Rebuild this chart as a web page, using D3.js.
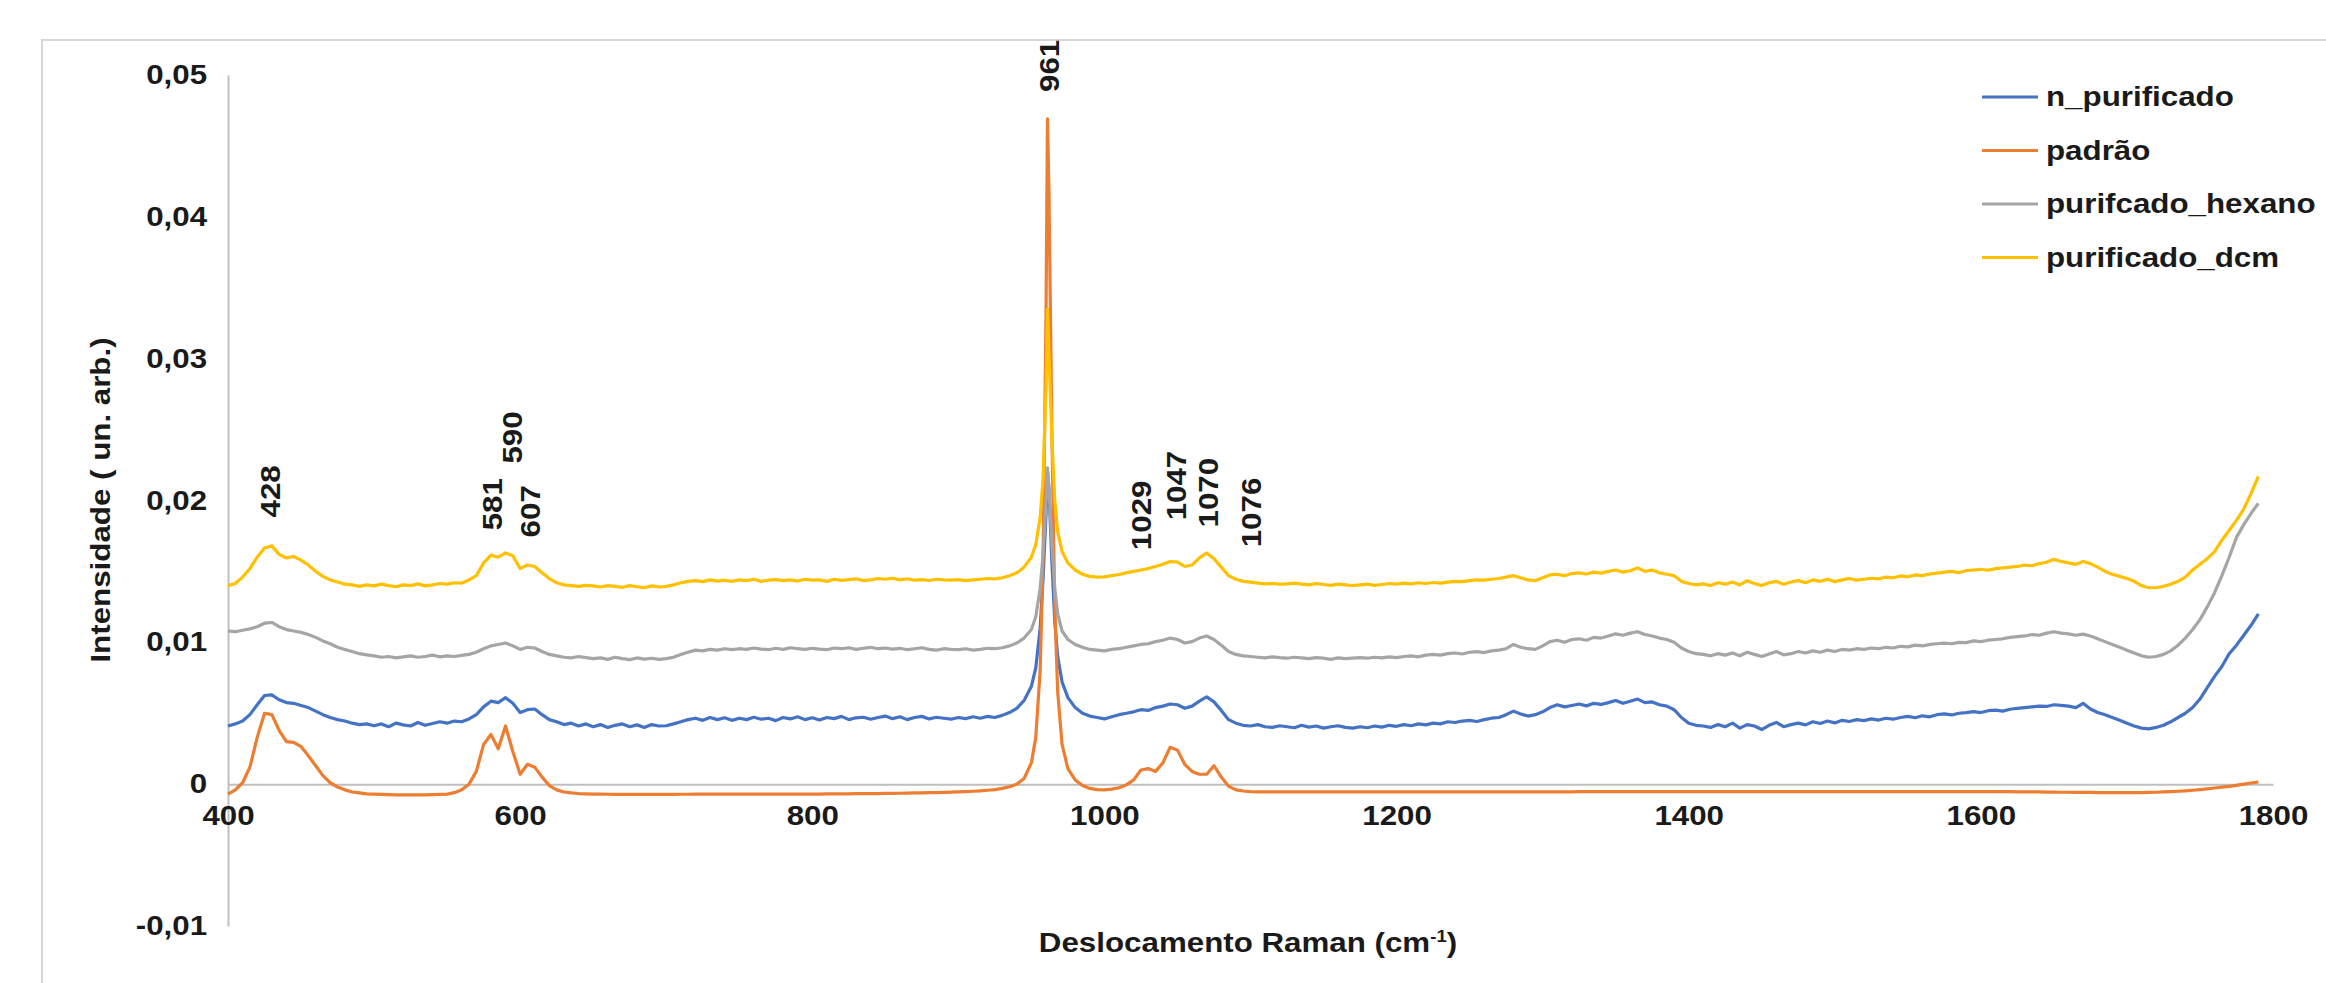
<!DOCTYPE html>
<html>
<head>
<meta charset="utf-8">
<script src="https://cdn.jsdelivr.net/npm/d3@7"></script>
<style>
body { margin: 0; background: #fff; }
svg text {
  font-family: "Liberation Sans", Arial, Helvetica, sans-serif;
  font-weight: bold;
  font-size: 27px;
  fill: #1a1a1a;
}
</style>
</head>
<body>
<svg id="chart"></svg>
<script>
var width = 2326, height = 983;

// Raman shift grid (cm-1): 5 cm-1 steps, finer around the 961 band
var wavenumber = [].concat(
  d3.range(400, 950, 5),
  [950, 953, 956, 958, 960, 961, 962, 964, 966, 968, 971],
  d3.range(975, 1795, 5)
);

// intensities, in units of 1e-5
var SCALE = 1e-5;

var nPurificado = [
  /*400*/ 410,425,445,490,560,625,630,595,575,570,
  /*450*/ 555,540,515,490,470,455,445,430,420,425,
  /*500*/ 412,425,405,430,418,410,435,415,428,440,
  /*550*/ 430,445,440,460,490,545,585,575,610,570,
  /*600*/ 505,525,530,490,455,440,420,430,410,425,
  /*650*/ 405,420,400,415,425,405,418,400,420,410,
  /*700*/ 412,425,440,455,465,450,470,455,468,450,
  /*750*/ 465,455,472,458,465,448,470,460,475,455,
  /*800*/ 468,452,470,462,478,455,468,472,458,470,
  /*850*/ 480,462,475,455,470,478,460,472,465,458,
  /*900*/ 470,462,475,465,478,470,485,505,535,590,
  /*950-971*/ 690,820,1100,1450,1900,2200,2080,1580,1150,900,720,
  /*975*/ 610,540,500,480,470,460,475,490,500,510,
  /*1025*/ 525,520,540,550,565,560,535,550,585,615,
  /*1075*/ 580,520,455,430,415,410,420,405,400,412,
  /*1125*/ 405,398,415,402,410,395,405,412,400,395,
  /*1175*/ 405,398,410,402,415,408,420,412,425,418,
  /*1225*/ 430,425,440,435,445,450,442,455,465,470,
  /*1275*/ 490,515,495,480,490,510,540,560,545,555,
  /*1325*/ 565,552,570,562,575,590,570,585,600,575,
  /*1375*/ 580,560,550,525,470,430,415,410,400,420,
  /*1425*/ 405,430,395,420,410,385,415,435,405,420,
  /*1475*/ 430,418,440,428,445,432,450,442,455,448,
  /*1525*/ 460,452,465,458,470,478,468,482,475,490,
  /*1575*/ 495,488,500,505,512,505,518,522,515,528,
  /*1625*/ 535,540,545,550,548,560,555,550,540,570,
  /*1675*/ 530,505,490,470,450,430,410,395,390,400,
  /*1725*/ 415,440,470,500,540,600,680,760,830,920,
  /*1775*/ 980,1050,1120,1200
];

var padrao = [
  /*400*/ -70,-40,10,120,330,500,490,380,300,295,
  /*450*/ 265,200,130,60,10,-20,-40,-55,-62,-68,
  /*500*/ -70,-72,-74,-75,-75,-76,-76,-75,-74,-72,
  /*550*/ -70,-60,-40,0,90,280,350,250,410,230,
  /*600*/ 70,140,120,50,-10,-40,-55,-62,-66,-68,
  /*650*/ -70,-70,-71,-72,-72,-72,-72,-72,-72,-72,
  /*700*/ -72,-72,-71,-71,-70,-70,-70,-70,-70,-70,
  /*750*/ -70,-70,-70,-70,-70,-70,-70,-70,-70,-70,
  /*800*/ -70,-70,-69,-69,-68,-68,-67,-67,-66,-66,
  /*850*/ -65,-65,-64,-63,-62,-61,-60,-59,-58,-56,
  /*900*/ -54,-52,-50,-47,-43,-38,-30,-18,0,40,
  /*950-971*/ 150,330,800,1600,3300,4690,4200,2500,1250,650,280,
  /*975*/ 110,30,-10,-30,-38,-40,-35,-25,-5,30,
  /*1025*/ 100,110,90,150,260,240,140,90,70,70,
  /*1075*/ 130,50,-15,-40,-48,-52,-54,-55,-55,-55,
  /*1125*/ -55,-55,-55,-55,-55,-55,-55,-55,-55,-55,
  /*1175*/ -55,-55,-55,-55,-55,-55,-55,-55,-55,-55,
  /*1225*/ -54,-54,-54,-54,-54,-54,-54,-54,-54,-54,
  /*1275*/ -54,-54,-54,-54,-54,-54,-54,-54,-54,-54,
  /*1325*/ -53,-53,-53,-53,-53,-53,-53,-53,-53,-53,
  /*1375*/ -53,-53,-53,-53,-53,-53,-53,-53,-53,-53,
  /*1425*/ -52,-52,-52,-52,-52,-52,-52,-52,-52,-52,
  /*1475*/ -52,-52,-52,-52,-52,-52,-52,-52,-52,-52,
  /*1525*/ -52,-52,-52,-52,-52,-52,-52,-52,-52,-52,
  /*1575*/ -53,-53,-53,-53,-53,-53,-53,-53,-53,-53,
  /*1625*/ -54,-54,-55,-55,-56,-56,-57,-57,-58,-58,
  /*1675*/ -58,-59,-59,-60,-60,-60,-60,-59,-58,-57,
  /*1725*/ -55,-53,-50,-47,-43,-38,-33,-27,-21,-15,
  /*1775*/ -8,0,8,15
];

var hexano = [
  /*400*/ 1080,1075,1085,1095,1110,1135,1140,1110,1090,1080,
  /*450*/ 1070,1055,1035,1010,990,965,950,935,920,912,
  /*500*/ 905,895,900,890,898,905,895,900,910,898,
  /*550*/ 905,900,908,915,930,955,975,985,995,975,
  /*600*/ 950,965,960,935,915,905,895,890,900,892,
  /*650*/ 885,890,880,895,885,878,890,882,888,880,
  /*700*/ 885,895,915,930,945,940,950,945,955,948,
  /*750*/ 955,950,960,952,948,958,950,962,955,950,
  /*800*/ 958,952,948,960,955,962,950,958,965,955,
  /*850*/ 960,952,958,948,955,962,950,945,955,950,
  /*900*/ 948,955,945,950,958,955,962,975,995,1030,
  /*950-971*/ 1090,1180,1380,1620,1980,2230,2100,1700,1380,1200,1080,
  /*975*/ 1020,985,965,950,945,940,950,955,965,975,
  /*1025*/ 985,990,1005,1015,1030,1020,995,1005,1030,1045,
  /*1075*/ 1020,980,935,915,905,900,895,890,898,892,
  /*1125*/ 888,895,890,885,892,888,880,890,885,888,
  /*1175*/ 892,888,895,890,898,892,900,905,898,910,
  /*1225*/ 915,910,920,925,918,930,935,928,940,945,
  /*1275*/ 955,985,965,955,950,975,1005,1015,1000,1020,
  /*1325*/ 1025,1015,1035,1030,1045,1060,1050,1065,1075,1055,
  /*1375*/ 1045,1030,1020,1000,960,935,920,915,905,920,
  /*1425*/ 910,925,905,930,915,900,918,935,912,920,
  /*1475*/ 935,925,940,930,945,935,950,945,955,950,
  /*1525*/ 960,955,965,960,972,968,980,975,985,990,
  /*1575*/ 995,990,1000,998,1010,1005,1015,1020,1025,1035,
  /*1625*/ 1040,1045,1055,1050,1065,1075,1065,1060,1050,1058,
  /*1675*/ 1045,1025,1005,985,965,945,925,905,895,900,
  /*1725*/ 915,940,980,1030,1090,1160,1250,1350,1470,1600,
  /*1775*/ 1740,1830,1910,1980
];

var dcm = [
  /*400*/ 1400,1415,1460,1520,1600,1665,1680,1620,1595,1605,
  /*450*/ 1580,1545,1500,1465,1440,1425,1410,1405,1395,1405,
  /*500*/ 1398,1410,1400,1392,1405,1400,1412,1398,1405,1415,
  /*550*/ 1410,1420,1418,1440,1470,1560,1615,1600,1630,1610,
  /*600*/ 1520,1545,1535,1490,1450,1420,1405,1400,1395,1402,
  /*650*/ 1398,1390,1400,1395,1388,1400,1392,1385,1398,1390,
  /*700*/ 1395,1405,1420,1430,1435,1428,1440,1432,1438,1430,
  /*750*/ 1440,1435,1445,1430,1438,1442,1435,1440,1432,1445,
  /*800*/ 1438,1440,1430,1445,1437,1442,1448,1435,1440,1450,
  /*850*/ 1445,1452,1440,1448,1438,1442,1436,1445,1440,1438,
  /*900*/ 1442,1435,1440,1445,1450,1448,1455,1470,1490,1530,
  /*950-971*/ 1600,1690,1880,2150,2800,3350,3050,2450,2000,1780,1640,
  /*975*/ 1560,1510,1480,1465,1460,1462,1470,1478,1490,1500,
  /*1025*/ 1510,1520,1535,1550,1570,1565,1535,1545,1595,1630,
  /*1075*/ 1590,1530,1470,1445,1430,1425,1418,1412,1415,1410,
  /*1125*/ 1412,1418,1410,1405,1415,1408,1402,1410,1405,1400,
  /*1175*/ 1405,1410,1402,1408,1415,1410,1418,1412,1420,1415,
  /*1225*/ 1422,1418,1425,1430,1428,1435,1440,1438,1445,1450,
  /*1275*/ 1460,1470,1455,1440,1435,1455,1475,1480,1470,1485,
  /*1325*/ 1490,1482,1495,1488,1500,1510,1495,1505,1525,1500,
  /*1375*/ 1510,1490,1480,1470,1430,1415,1405,1412,1400,1420,
  /*1425*/ 1410,1425,1405,1435,1415,1400,1420,1430,1410,1425,
  /*1475*/ 1435,1420,1440,1430,1445,1428,1440,1450,1438,1445,
  /*1525*/ 1452,1448,1460,1455,1468,1462,1475,1470,1482,1488,
  /*1575*/ 1495,1500,1492,1505,1510,1515,1508,1520,1525,1530,
  /*1625*/ 1535,1545,1540,1555,1565,1585,1570,1560,1550,1570,
  /*1675*/ 1555,1530,1500,1480,1465,1450,1430,1400,1385,1385,
  /*1725*/ 1395,1410,1430,1460,1510,1550,1590,1640,1720,1790,
  /*1775*/ 1860,1940,2050,2170
];

var seriesNames = ["n_purificado", "padrão", "purifcado_hexano", "purificado_dcm"];
var seriesData = [nPurificado, padrao, hexano, dcm];
var seriesColors = ["#4472C4", "#ED7D31", "#A5A5A5", "#FFC000"];

var xTicks = [400, 600, 800, 1000, 1200, 1400, 1600, 1800];
var yTicks = [-0.01, 0, 0.01, 0.02, 0.03, 0.04, 0.05];

// band labels: text, where it sits (cm-1) and the intensity at its lower end
var peakLabels = ["428", "581", "590", "607", "961", "1029", "1047", "1070", "1076"];
var peakLabelWn = [428.8, 581.4, 595.1, 606.8, 962.1, 1025.7, 1049.4, 1071.6, 1100.4];
var peakLabelBase = [0.0188, 0.0179, 0.0226, 0.0174, 0.0488, 0.0165, 0.0186, 0.0181, 0.0167];

var stretch = "scale(1.16,1)";

var svg = d3.select("#chart")
    .attr("width", width)
    .attr("height", height);

// chart area border
svg.append("rect")
    .attr("x", 42).attr("y", 40)
    .attr("width", width).attr("height", height)
    .attr("fill", "#fff")
    .attr("stroke", "#d6d6d6")
    .attr("stroke-width", 2);

var x = d3.scaleLinear().domain([400, 1800]).range([228, 2273]);
var y = d3.scaleLinear().domain([-0.01, 0.05]).range([926, 75]);

// Excel style: decimal comma, plain hyphen for negatives
function fmt(v) {
    if (v === 0) return "0";
    return (v < 0 ? "-" : "") + d3.format(".2f")(Math.abs(v)).replace(".", ",");
}

var gy = svg.append("g")
    .attr("transform", "translate(" + x(400) + ",0)")
    .call(d3.axisLeft(y).tickValues(yTicks).tickSize(0).tickPadding(18).tickFormat(fmt));
gy.select(".domain").attr("stroke", "#bfbfbf").attr("stroke-width", 2);
gy.selectAll(".tick text").attr("transform", stretch);

var gx = svg.append("g")
    .attr("transform", "translate(0," + y(0) + ")")
    .call(d3.axisBottom(x).tickValues(xTicks).tickSize(0).tickPadding(22).tickFormat(d3.format("d")));
gx.select(".domain").attr("stroke", "#bfbfbf").attr("stroke-width", 2);
gx.selectAll(".tick text").attr("transform", stretch);

// spectra
var line = d3.line()
    .x(function(d, i) { return x(wavenumber[i]); })
    .y(function(d) { return y(d * SCALE); });

svg.append("g").selectAll("path")
    .data(seriesData)
    .enter().append("path")
    .attr("d", line)
    .attr("fill", "none")
    .attr("stroke", function(d, i) { return seriesColors[i]; })
    .attr("stroke-width", 3.2)
    .attr("stroke-linejoin", "round");

// band labels
svg.append("g").selectAll("text")
    .data(peakLabels)
    .enter().append("text")
    .attr("transform", function(d, i) {
        return "translate(" + x(peakLabelWn[i]) + "," + y(peakLabelBase[i]) + ")rotate(-90)" + stretch;
    })
    .attr("dy", "0.35em")
    .text(function(d) { return d; });

// axis titles
svg.append("text")
    .attr("transform", "translate(101,500)rotate(-90)" + stretch)
    .attr("text-anchor", "middle")
    .attr("dy", "0.35em")
    .text("Intensidade ( un. arb.)");

var xt = svg.append("text")
    .attr("transform", "translate(1248,943)" + stretch)
    .attr("text-anchor", "middle")
    .attr("dy", "0.35em");
xt.append("tspan").text("Deslocamento Raman (cm");
xt.append("tspan").attr("dy", -10).style("font-size", "16px").text("-1");
xt.append("tspan").attr("dy", 10).text(")");

// legend
var legend = svg.append("g").selectAll("g")
    .data(seriesNames)
    .enter().append("g")
    .attr("transform", function(d, i) { return "translate(0," + (97 + i * 53.5) + ")"; });
legend.append("line")
    .attr("x1", 1982).attr("x2", 2038)
    .attr("stroke", function(d, i) { return seriesColors[i]; })
    .attr("stroke-width", 3.2);
legend.append("text")
    .attr("transform", "translate(2046,0)" + stretch)
    .attr("dy", "0.35em")
    .text(function(d) { return d; });
</script>
</body>
</html>
